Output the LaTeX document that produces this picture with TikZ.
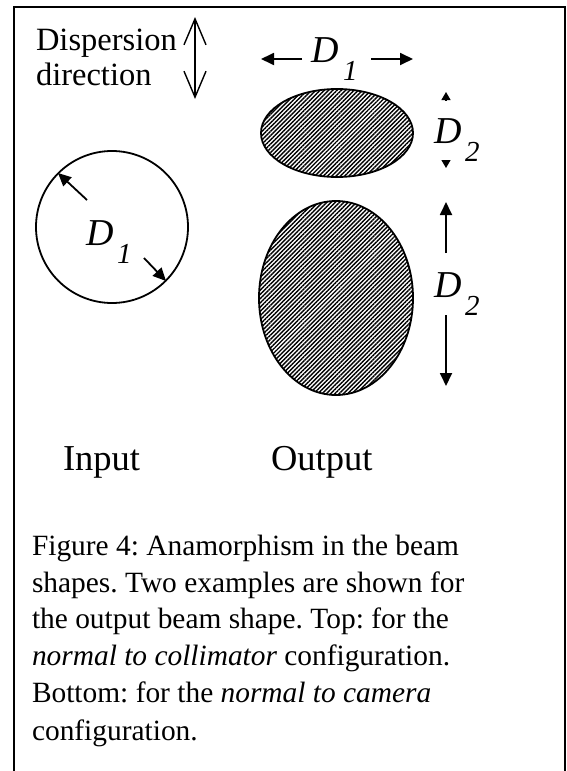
\documentclass[tikz,border=0pt]{standalone}
\usepackage{fontspec}
\setmainfont{Liberation Serif}
\usetikzlibrary{arrows.meta,patterns.meta}
\frenchspacing
\tikzset{
  txtbase/.style={inner sep=0pt,outer sep=0pt,anchor=base west},
  lbltxt/.style={txtbase,font=\fontsize{32.5}{32.5}\selectfont},
  bigtxt/.style={txtbase,font=\fontsize{36.5}{36.5}\selectfont},
  captxt/.style={txtbase,font=\fontsize{29.4}{29.4}\selectfont},
  dsym/.style={txtbase,font=\fontsize{38}{38}\selectfont\itshape},
  dsub/.style={txtbase,font=\fontsize{29}{29}\selectfont\itshape},
  arrfill/.style={line width=1.8pt,-{Triangle[length=13pt,width=12pt]}},
  smallarr/.style={line width=1.2pt,-{Triangle[length=8pt,width=9pt]}},
  hatchfill/.style={line width=1.8pt,pattern={Lines[angle=45,distance=3pt,line width=1.4pt]},pattern color=black},
  framepath/.style={line width=2.6pt}
}
\begin{document}
\begin{tikzpicture}[x=1pt,y=-1pt]
\useasboundingbox (0,0) rectangle (567,771);
% frame (bottom edge lies below the picture)
\draw[framepath] (14,780) -- (14,7) -- (565,7) -- (565,780);

% dispersion direction
\node[lbltxt] (disp) at (36,50) {Dispersion};
\node[lbltxt] (dir) at (36,85) {direction};
\coordinate (dtop) at (195,17);
\coordinate (dbot) at (195,99);
\draw[line width=1.4pt,{Straight Barb[length=26pt,width=22pt,line width=1.4pt]}-{Straight Barb[length=26pt,width=22pt,line width=1.4pt]}] (dtop) -- (dbot);

% input circle
\draw[line width=1.8pt] (112,227) circle[radius=76];
\coordinate (c1a) at (87,200);
\coordinate (c1b) at (58,173);
\coordinate (c2a) at (144,258);
\coordinate (c2b) at (166,281);
\draw[arrfill] (c1a) -- (c1b);
\draw[arrfill] (c2a) -- (c2b);
\node[dsym] (cD) at (86,245) {D};
\node[dsub] (c1) at (117,263) {1};

% output top ellipse
\draw[hatchfill] (337,133) ellipse[x radius=76,y radius=44];
\node[dsym] (tD) at (311,62) {D};
\node[dsub] (t1) at (343,80) {1};
\coordinate (tla) at (302,59);
\coordinate (tlb) at (261,59);
\coordinate (tra) at (371,59);
\coordinate (trb) at (413,59);
\draw[arrfill] (tla) -- (tlb);
\draw[arrfill] (tra) -- (trb);
\node[dsym] (t2D) at (434,143) {D};
\node[dsub] (t2) at (465,161) {2};
\coordinate (sua) at (446,100);
\coordinate (sub) at (446,92);
\coordinate (sda) at (446,160);
\coordinate (sdb) at (446,168);
\draw[smallarr] (sua) -- (sub);
\draw[smallarr] (sda) -- (sdb);

% output bottom ellipse
\draw[hatchfill] (336,298) ellipse[x radius=77,y radius=97];
\node[dsym] (bD) at (434,297) {D};
\node[dsub] (b2) at (465,315) {2};
\coordinate (bua) at (446,253);
\coordinate (bub) at (446,202);
\coordinate (bda) at (446,315);
\coordinate (bdb) at (446,386);
\draw[arrfill] (bua) -- (bub);
\draw[arrfill] (bda) -- (bdb);

% labels
\node[bigtxt] (in) at (63,470) {Input};
\node[bigtxt] (out) at (271,470) {Output};

% caption
\node[captxt] (l1) at (32,555) {Figure 4: Anamorphism in the beam};
\node[captxt] (l2) at (32,592) {shapes. Two examples are shown for};
\node[captxt] (l3) at (32,628) {the output beam shape. Top: for the};
\node[captxt] (l4) at (32,665) {\itshape normal to collimator\upshape{} configuration.};
\node[captxt] (l5) at (32,702) {Bottom: for the \itshape normal to camera};
\node[captxt] (l6) at (32,740) {configuration.};
\end{tikzpicture}
\end{document}
